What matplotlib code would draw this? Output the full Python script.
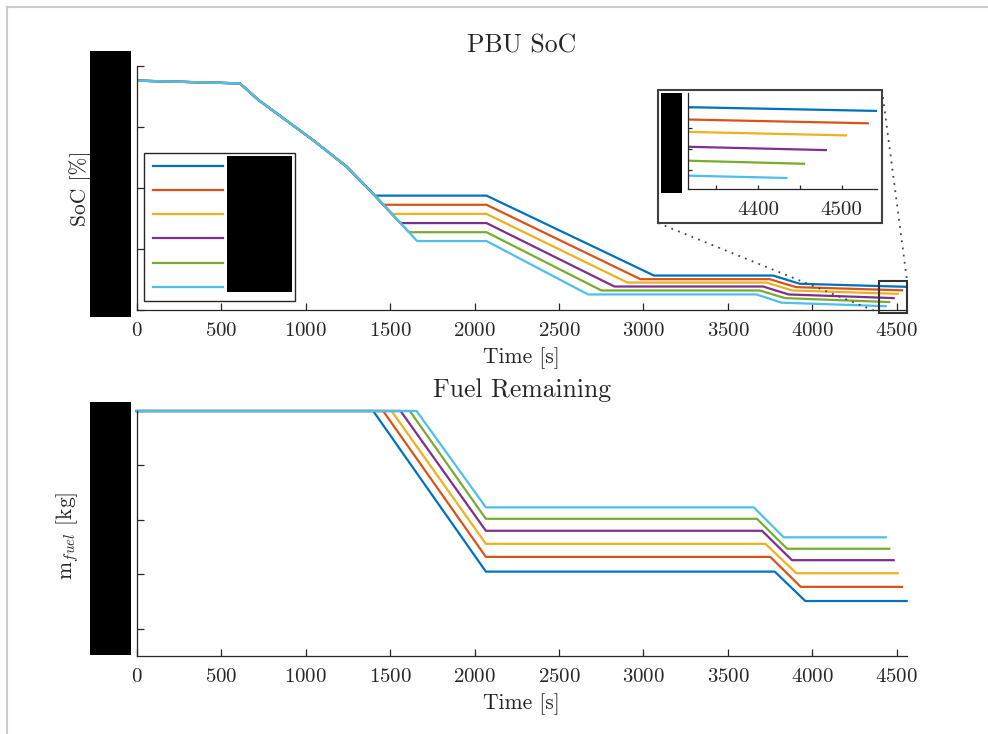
import matplotlib
matplotlib.use("Agg")
import matplotlib.pyplot as plt
from matplotlib.patches import Rectangle
from matplotlib.lines import Line2D
import numpy as np

plt.rcParams['font.family'] = ['cmr10', 'DejaVu Serif']
plt.rcParams['mathtext.fontset'] = 'cm'
plt.rcParams['axes.formatter.use_mathtext'] = True

W, H = 988, 734

# MATLAB default line colours
colors = ['#0072BD', '#D95319', '#EDB120', '#7E2F8E', '#77AC30', '#4DBEEE']
case_labels = ['Case 1', 'Case 2', 'Case 3', 'Case 4', 'Case 5', 'Case 6']

# ---- PBU state of charge [%] ----
# shared discharge before the cases diverge
soc_common_t = [0, 611, 720, 1044, 1243, 1410]
soc_common_v = [95.2, 94.3, 88.9, 75.7, 67.0, 57.5]
# first hold
soc_hold1_t = [1410, 1460, 1510, 1560, 1612, 1660]
soc_hold1_v = [57.5, 54.5, 51.5, 48.5, 45.5, 42.6]
soc_hold1_end_t = 2071
# second discharge ends / second hold level
soc_dis2_end_t = [3062, 2982, 2905, 2828, 2751, 2672]
soc_hold2_v = [31.3, 30.1, 29.0, 27.7, 26.4, 25.1]
# third discharge
soc_dis3_start_t = [3767, 3747, 3728, 3708, 3688, 3669]
soc_dis3_end_t = [3925, 3903, 3881, 3859, 3838, 3817]
soc_dis3_end_v = [28.6, 27.5, 26.4, 25.1, 23.9, 22.4]
# end of mission
end_t = [4558, 4531, 4505, 4481, 4455, 4434]
soc_end_v = [27.6, 26.45, 25.3, 23.9, 22.6, 21.25]

# ---- fuel remaining [kg] ----
fuel_start_v = 50.0
fuel_burn1_start_t = [1400, 1459, 1509, 1562, 1617, 1657]
fuel_burn1_end_t = 2067
fuel_hold1_v = [20.5, 23.2, 25.6, 28.0, 30.2, 32.3]
fuel_burn2_start_t = [3777, 3751, 3722, 3702, 3672, 3653]
fuel_burn2_end_t = [3958, 3931, 3905, 3879, 3850, 3830]
fuel_end_v = [15.1, 17.7, 20.2, 22.6, 24.7, 26.8]

time_ticks = [0, 500, 1000, 1500, 2000, 2500, 3000, 3500, 4000, 4500]
soc_ticks = [20, 40, 60, 80, 100]
fuel_ticks = [10, 20, 30, 40, 50]
inset_xticks = [4350, 4400, 4450, 4500]
inset_xticklabels = ['', '4400', '', '4500']
inset_yticks = [22, 24, 26, 28]


def soc_series(i):
    t = list(soc_common_t) + [soc_hold1_t[i], soc_hold1_end_t, soc_dis2_end_t[i],
                              soc_dis3_start_t[i], soc_dis3_end_t[i], end_t[i]]
    v = list(soc_common_v) + [soc_hold1_v[i], soc_hold1_v[i], soc_hold2_v[i],
                              soc_hold2_v[i], soc_dis3_end_v[i], soc_end_v[i]]
    return np.array(t, float), np.array(v, float)


def fuel_series(i):
    t = [0, fuel_burn1_start_t[i], fuel_burn1_end_t, fuel_burn2_start_t[i],
         fuel_burn2_end_t[i], end_t[i]]
    v = [fuel_start_v, fuel_start_v, fuel_hold1_v[i], fuel_hold1_v[i],
         fuel_end_v[i], fuel_end_v[i]]
    return np.array(t, float), np.array(v, float)


def fx(px):
    return px / W


def fy(py):
    return 1 - py / H


AX_COL = '#262626'
FS_TICK = 15
FS_LABEL = 15.5
FS_TITLE = 18.5
LW = 1.6


def style_axes(ax):
    for s in ['top', 'right']:
        ax.spines[s].set_visible(False)
    for s in ['left', 'bottom']:
        ax.spines[s].set_color(AX_COL)
        ax.spines[s].set_linewidth(0.9)
    ax.tick_params(direction='in', length=5, width=0.9, colors=AX_COL,
                   labelsize=FS_TICK, pad=9)


fig = plt.figure(figsize=(W / 100, H / 100), dpi=100)

# ---------------- top: PBU SoC ----------------
ax1 = fig.add_axes([fx(136.7), fy(310), (907 - 136.7) / W, (310 - 66) / H])
style_axes(ax1)
handles = []
for i in range(6):
    t, v = soc_series(i)
    h, = ax1.plot(t, v, color=colors[i], lw=LW)
    handles.append(h)
ax1.set_xlim(0, 4560)
ax1.set_ylim(20, 100)
ax1.set_xticks(time_ticks)
ax1.set_yticks(soc_ticks)
ax1.set_yticklabels([''] * len(soc_ticks))
ax1.set_xlabel('Time [s]', fontsize=FS_LABEL, color=AX_COL, labelpad=5)
ax1.set_ylabel('SoC [%]', fontsize=FS_LABEL, color=AX_COL)
ax1.yaxis.set_label_coords(-0.058, 0.5)
ax1.set_title('PBU SoC', fontsize=FS_TITLE, color=AX_COL, pad=9.5)

leg = ax1.legend(handles, case_labels, loc='upper left',
                 bbox_to_anchor=(fx(144), fy(301.7), 151 / W, 149 / H),
                 bbox_transform=fig.transFigure, mode='expand',
                 borderaxespad=0, fontsize=6, handlelength=8.4,
                 labelspacing=1.906, borderpad=1.12, handletextpad=1.2,
                 fancybox=False, framealpha=1)
leg.get_frame().set_edgecolor(AX_COL)
leg.get_frame().set_linewidth(1.0)

# zoom window on the end of the mission
ax1.add_patch(Rectangle((4392, 19.1), 4558 - 4392, 29.6 - 19.1, fill=False,
                        edgecolor='#333333', lw=1.5, clip_on=False, zorder=4))

# ---------------- bottom: fuel remaining ----------------
ax2 = fig.add_axes([fx(136.7), fy(656), (907 - 136.7) / W, (656 - 411) / H])
style_axes(ax2)
for i in range(6):
    t, v = fuel_series(i)
    ax2.plot(t, v, color=colors[i], lw=LW, clip_on=False)
ax2.set_xlim(0, 4560)
ax2.set_ylim(5, 50)
ax2.set_xticks(time_ticks)
ax2.set_yticks(fuel_ticks)
ax2.set_yticklabels([''] * len(fuel_ticks))
ax2.set_xlabel('Time [s]', fontsize=FS_LABEL, color=AX_COL, labelpad=5)
ax2.set_ylabel(r'm$_{fuel}$ [kg]', fontsize=FS_LABEL, color=AX_COL)
ax2.yaxis.set_label_coords(-0.072, 0.49)
ax2.set_title('Fuel Remaining', fontsize=FS_TITLE, color=AX_COL, pad=10)

# ---------------- inset ----------------
fig.patches.append(Rectangle((fx(658), fy(223)), (882 - 658) / W, (223 - 90) / H,
                             transform=fig.transFigure, facecolor='white',
                             edgecolor='#404040', lw=1.5, zorder=2))
axi = fig.add_axes([fx(688), fy(189), (877 - 688) / W, (189 - 93) / H])
axi.set_zorder(3)
style_axes(axi)
axi.tick_params(length=3)
for i in range(6):
    t, v = soc_series(i)
    axi.plot(t, v, color=colors[i], lw=LW)
axi.set_xlim(4316.7, 4542)
axi.set_ylim(20.2, 29.33)
axi.set_xticks(inset_xticks)
axi.set_xticklabels(inset_xticklabels)
axi.set_yticks(inset_yticks)
axi.set_yticklabels([''] * len(inset_yticks))

# dotted connectors between inset frame and zoom window
for (x0, y0), (x1, y1) in [((658, 223), (879, 312.7)), ((882, 90), (907, 280.7))]:
    fig.add_artist(Line2D([fx(x0), fx(x1)], [fy(y0), fy(y1)], transform=fig.transFigure,
                          color='#444444', lw=1.3, linestyle=(0, (1, 3)), zorder=1.5))

# redaction blocks over tick values and legend entries
for (x0, y0, x1, y1) in [(90, 50.7, 131, 317), (90, 401.7, 131, 655),
                         (226.7, 156, 291.7, 292.3), (661, 93, 682, 193)]:
    fig.patches.append(Rectangle((fx(x0), fy(y1)), (x1 - x0) / W, (y1 - y0) / H,
                                 transform=fig.transFigure, facecolor='black',
                                 edgecolor='none', zorder=10))

# page edge lines
fig.add_artist(Line2D([fx(7), fx(7)], [fy(7), 0], transform=fig.transFigure,
                      color='#cccccc', lw=1.5))
fig.add_artist(Line2D([fx(7), 1], [fy(7), fy(7)], transform=fig.transFigure,
                      color='#cccccc', lw=1.5))

fig.savefig('out.png', dpi=100, facecolor='white')
